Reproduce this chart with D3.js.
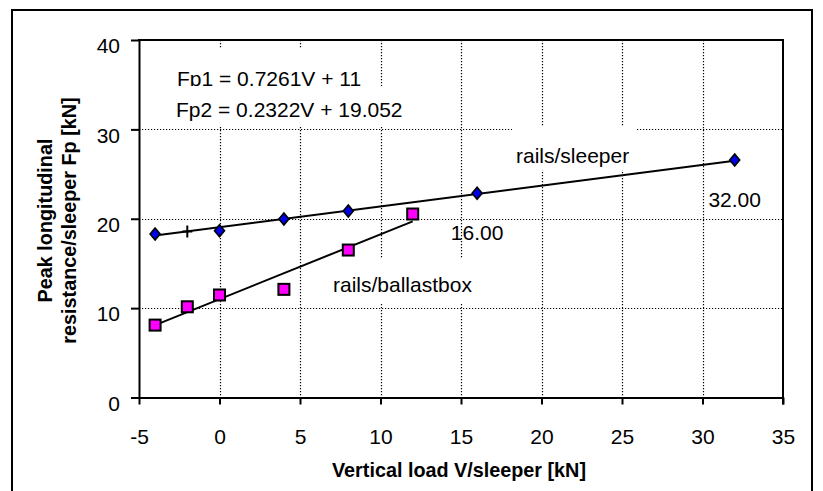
<!DOCTYPE html>
<html>
<head>
<meta charset="utf-8">
<script src="https://cdn.jsdelivr.net/npm/d3@7"></script>
<style>
  body { margin: 0; background: #fff; }
  svg { display: block; }
  text { font-family: Arial, "Liberation Sans", sans-serif; fill: #000; }
</style>
</head>
<body>
<svg id="chart" width="823" height="491"></svg>
<script>
// rails/sleeper: vertical load per sleeper (kN) and peak resistance (kN)
const sleeperLoads = [-4, 0, 4, 8, 16, 32];
const sleeperResistance = [18.3, 18.65, 19.97, 20.87, 22.85, 26.57];
// rails/ballastbox
const ballastLoads = [-4, -2, 0, 4, 8, 12];
const ballastResistance = [8.1, 10.15, 11.47, 12.1, 16.5, 20.53];
// single point marked with a cross on the rails/sleeper fit
const crossLoads = [-2];
const crossResistance = [18.56];
// linear fits: slope, intercept, first and last load
const fitBallast = [0.7261, 11, -4, 12];
const fitSleeper = [0.2322, 19.052, -4, 32];
const fitLabels = ["Fp1 = 0.7261V + 11", "Fp2 = 0.2322V + 19.052"];
// loads whose points carry a value label
const labelledLoads = [16, 32];
const seriesNames = ["rails/sleeper", "rails/ballastbox"];
const xTicks = [-5, 0, 5, 10, 15, 20, 25, 30, 35];
const yTicks = [0, 10, 20, 30, 40];
const xTitle = "Vertical load V/sleeper [kN]";
const yTitle = ["Peak longitudinal", "resistance/sleeper Fp [kN]"];

const svg = d3.select("#chart");
const plot = { left: 139, right: 783, top: 40, bottom: 397.5 };

const x = d3.scaleLinear().domain([-5, 35]).range([plot.left, plot.right]);
const y = d3.scaleLinear().domain([0, 40]).range([plot.bottom, plot.top]);

// outer frame
svg.append("rect")
  .attr("x", 12).attr("y", 10).attr("width", 800).attr("height", 500)
  .attr("fill", "none").attr("stroke", "#000").attr("stroke-width", 2);

// dotted grid
const grid = svg.append("g")
  .attr("stroke", "#000").attr("stroke-width", 1.2)
  .attr("stroke-dasharray", "1.2,1.8");
grid.selectAll("line.v")
  .data(xTicks.filter(t => t > -5 && t < 35))
  .join("line")
  .attr("x1", d => Math.round(x(d)) + 0.5).attr("x2", d => Math.round(x(d)) + 0.5)
  .attr("y1", plot.top).attr("y2", plot.bottom);
grid.selectAll("line.h")
  .data(yTicks.filter(t => t > 0 && t < 40))
  .join("line")
  .attr("x1", plot.left).attr("x2", plot.right)
  .attr("y1", d => Math.round(y(d)) + 0.5).attr("y2", d => Math.round(y(d)) + 0.5);

// axes (plain hyphen for negative numbers)
const fontSize = 21;
const plain = d => String(d);
const xAxis = svg.append("g")
  .attr("transform", `translate(0,${plot.bottom})`)
  .call(d3.axisBottom(x).tickValues(xTicks).tickFormat(plain).tickSize(7).tickSizeOuter(0));
xAxis.selectAll("text")
  .attr("y", 46.5).attr("dy", 0)
  .style("font-size", fontSize + "px");

const yAxis = svg.append("g")
  .attr("transform", `translate(${plot.left},0)`)
  .call(d3.axisLeft(y).tickValues(yTicks).tickFormat(plain).tickSize(8).tickSizeOuter(0));
yAxis.selectAll("text")
  .attr("x", -19).attr("dy", 12.7)
  .style("font-size", fontSize + "px");

[xAxis, yAxis].forEach(g => {
  g.selectAll("path.domain").attr("stroke", "#000").attr("stroke-width", 2);
  g.selectAll(".tick line").attr("stroke", "#000").attr("stroke-width", 2);
  g.selectAll("text").attr("fill", "#000").style("font-family", "Arial, 'Liberation Sans', sans-serif");
});

// top and right edges of the plot box
svg.append("line")
  .attr("x1", plot.left - 1).attr("x2", plot.right + 1)
  .attr("y1", plot.top).attr("y2", plot.top)
  .attr("stroke", "#000").attr("stroke-width", 2);
svg.append("line")
  .attr("x1", plot.right).attr("x2", plot.right)
  .attr("y1", plot.top).attr("y2", plot.bottom + 7)
  .attr("stroke", "#000").attr("stroke-width", 2);

// text boxes with white backgrounds
function textBox(rect, label, tx, ty) {
  svg.append("rect")
    .attr("x", rect[0]).attr("y", rect[1])
    .attr("width", rect[2] - rect[0]).attr("height", rect[3] - rect[1])
    .attr("fill", "#fff");
  svg.append("text")
    .attr("x", tx).attr("y", ty)
    .style("font-size", fontSize + "px")
    .text(label);
}
textBox([170, 48, 375, 86], fitLabels[0], 177, 85.5);
textBox([170, 86, 418, 126], fitLabels[1], 176, 117.3);
textBox([512, 127, 637, 170], seriesNames[0], 516, 162.5);
textBox([318, 258, 492, 303], seriesNames[1], 333, 291.7);

// fitted lines
function fitLine(fit) {
  const pts = [fit[2], fit[3]].map(v => [x(v), y(fit[0] * v + fit[1])]);
  svg.append("path")
    .attr("d", d3.line()(pts))
    .attr("fill", "none").attr("stroke", "#000").attr("stroke-width", 2);
}
fitLine(fitBallast);
fitLine(fitSleeper);

// rails/ballastbox squares
const sq = 11;
svg.append("g").selectAll("rect")
  .data(ballastLoads.map((v, i) => [v, ballastResistance[i]]))
  .join("rect")
  .attr("x", d => x(d[0]) - sq / 2).attr("y", d => y(d[1]) - sq / 2)
  .attr("width", sq).attr("height", sq)
  .attr("fill", "#ff00ff").attr("stroke", "#000").attr("stroke-width", 2);

// rails/sleeper diamonds
svg.append("g").selectAll("path")
  .data(sleeperLoads.map((v, i) => [v, sleeperResistance[i]]))
  .join("path")
  .attr("transform", d => `translate(${x(d[0])},${y(d[1])})`)
  .attr("d", "M0,-6L5,0L0,6L-5,0Z")
  .attr("fill", "#0000e6").attr("stroke", "#000").attr("stroke-width", 1.6)
  .attr("stroke-linejoin", "miter");

// cross marker
svg.append("g").selectAll("path")
  .data(crossLoads.map((v, i) => [v, crossResistance[i]]))
  .join("path")
  .attr("transform", d => `translate(${x(d[0])},${y(d[1])})`)
  .attr("d", "M0,-6V6M-5,0H5")
  .attr("fill", "none").attr("stroke", "#000").attr("stroke-width", 2);

// value labels under the heavier-load sleeper points
svg.append("g").selectAll("text")
  .data(labelledLoads.map(v => [v, sleeperResistance[sleeperLoads.indexOf(v)]]))
  .join("text")
  .attr("x", d => x(d[0])).attr("y", d => y(d[1]) + 46.5)
  .attr("text-anchor", "middle")
  .style("font-size", fontSize + "px")
  .text(d => d3.format(".2f")(d[0]));

// axis titles
svg.append("text")
  .attr("x", (plot.left + plot.right) / 2 - 2).attr("y", 477.3)
  .attr("text-anchor", "middle")
  .style("font-size", "19.8px").style("font-weight", "bold")
  .text(xTitle);

const yt = svg.append("text")
  .attr("transform", "translate(0,220.5) rotate(-90)")
  .attr("text-anchor", "middle")
  .style("font-size", "19.8px").style("font-weight", "bold");
yTitle.forEach((line, i) => {
  yt.append("tspan").attr("x", 0).attr("y", 52 + i * 24).text(line);
});
</script>
</body>
</html>
